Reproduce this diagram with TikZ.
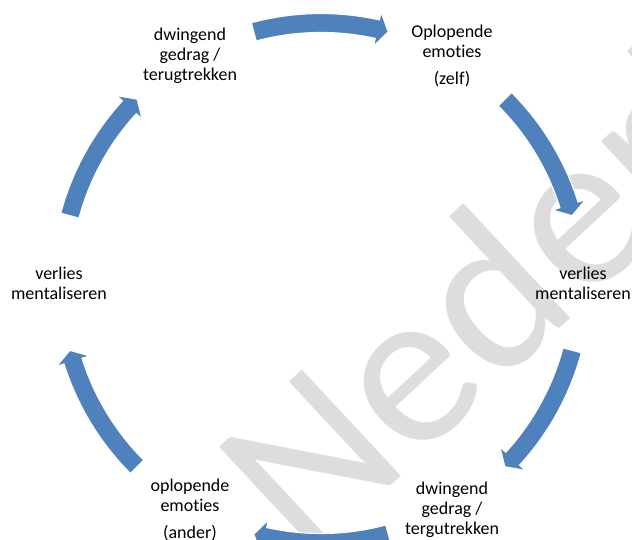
\documentclass[tikz,border=0pt]{standalone}
\usepackage{fontspec}
\setmainfont[Ligatures=NoCommon]{Carlito}
\definecolor{arrowblue}{RGB}{79,129,189}
\definecolor{wmgray}{RGB}{221,221,221}
\newcommand{\cycarrow}[1]{%
  \path[fill=arrowblue, draw=white, line width=1.2pt]
    (#1+15:269.5pt) arc[start angle=#1+15, end angle=#1-12.5, radius=269.5pt]
    -- (#1-12.5:277.5pt) -- (#1-15:260pt) -- (#1-12.5:242.5pt) -- (#1-12.5:250.5pt)
    arc[start angle=#1-12.5, end angle=#1+15, radius=250.5pt] -- cycle;}
\tikzset{
  label/.style={align=center, inner sep=0pt, font=\fontsize{18pt}{20pt}\selectfont},
  watermark/.style={text=wmgray, rotate=43, anchor=base west, inner sep=0pt,
    font=\fontsize{226pt}{226pt}\selectfont}
}
\begin{document}
\begin{tikzpicture}
\clip (0pt,0pt) rectangle (632pt,540pt);
\fill[white] (0pt,0pt) rectangle (632pt,540pt);
\node[watermark] (wm) at (306pt,-25pt) {Nederland};
\begin{scope}[shift={(321pt,257pt)}]
  \node[label] (tl) at (120:262pt) {dwingend\\gedrag /\\terugtrekken};
  \node[label] (tr) at (60:262pt) {Oplopende\\emoties\\[7pt](zelf)};
  \node[label] (r) at (0:262pt) {verlies\\mentaliseren};
  \node[label] (br) at (-60:262pt) {dwingend\\gedrag /\\tergutrekken};
  \node[label] (bl) at (-120:262pt) {oplopende\\emoties\\[7pt](ander)};
  \node[label] (l) at (180:262pt) {verlies\\mentaliseren};
  \cycarrow{90}
  \cycarrow{30}
  \cycarrow{-30}
  \cycarrow{-90}
  \cycarrow{-150}
  \cycarrow{150}
\end{scope}
\end{tikzpicture}
\end{document}
